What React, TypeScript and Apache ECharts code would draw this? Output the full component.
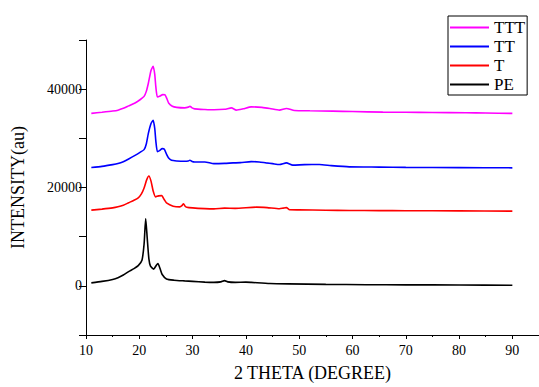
import React, { useEffect, useRef } from "react";
import * as echarts from "echarts";

const seriesNames = ["TTT", "TT", "T", "PE"];
const seriesColors = ["#ff00ff", "#0000ff", "#ff0000", "#000000"];

const pe: number[][] = [
  [11, 600], [13, 900], [15, 1300], [16, 1650], [17, 2200], [18, 2900], [19, 3500], [19.8, 4100],
  [20.5, 5200], [20.9, 8500], [21.2, 13700], [21.5, 9500], [21.8, 5500], [22.1, 4000], [22.7, 3400],
  [23.2, 4200], [23.5, 4550], [23.9, 3500], [24.3, 2300], [25.1, 1400], [26.5, 1150], [28.5, 1000],
  [30, 900], [32.3, 750], [34, 700], [35.3, 800], [36, 1050], [36.6, 800], [38, 700], [40, 750],
  [41, 700], [44.5, 480], [48, 400], [55, 300], [62.6, 220], [70, 200], [80, 170], [90, 130],
];

const t: number[][] = [
  [11, 15400], [13, 15600], [15, 15850], [16, 16070], [17, 16400], [18, 16900], [19, 17400],
  [19.8, 17900], [20.4, 18700], [20.9, 19900], [21.4, 21600], [21.8, 22330], [22.2, 21300],
  [22.6, 19300], [23.05, 18100], [23.6, 18300], [24.2, 18350], [24.7, 17500], [25.1, 16870],
  [26.35, 16200], [27.6, 16050], [28.0, 16300], [28.3, 16700], [28.6, 16200], [28.9, 16000],
  [30, 15850], [32.3, 15700], [34, 15650], [36, 15800], [38, 15750], [42, 16000], [44, 15900],
  [46.3, 15680], [47, 15800], [47.6, 15900], [48.2, 15480], [50, 15450], [55, 15380], [59.4, 15330],
  [65, 15300], [70, 15280], [80, 15250], [90, 15200],
];

const tt: number[][] = [
  [11, 24070], [13, 24300], [15, 24650], [16, 24870], [17, 25250], [18, 25800], [19.2, 26530],
  [20.2, 27200], [20.9, 27700], [21.3, 28800], [21.7, 31000], [22.2, 33000], [22.6, 33670],
  [22.9, 32000], [23.1, 29500], [23.4, 27300], [23.8, 27500], [24.3, 27900], [24.7, 27800],
  [25.1, 26800], [25.5, 26000], [26.05, 25530], [27, 25400], [28.5, 25330], [29.2, 25400],
  [29.5, 25550], [29.9, 25300], [30.4, 25200], [32.3, 25200], [34, 24850], [36, 24900],
  [37.6, 25000], [39, 25050], [41, 25270], [42.5, 25200], [43.8, 25000], [45, 24850], [46.3, 24670],
  [47.6, 25000], [48.8, 24550], [51, 24650], [53.8, 24670], [56, 24450], [59.4, 24200], [65, 24150],
  [70, 24100], [80, 24050], [90, 24000],
];

const ttt: number[][] = [
  [11, 35070], [13, 35300], [15, 35550], [16, 35730], [17, 36100], [18, 36600], [19.2, 37200],
  [20.2, 37900], [20.9, 38530], [21.3, 39500], [21.7, 41200], [22.2, 43800], [22.6, 44670],
  [22.9, 43000], [23.1, 40500], [23.4, 38400], [23.9, 38600], [24.4, 38900], [24.8, 38870],
  [25.2, 38000], [25.5, 37200], [26.2, 36530], [27, 36300], [28.5, 36200], [29.2, 36350],
  [29.5, 36530], [29.9, 36200], [30.4, 36000], [32.3, 35870], [34, 35800], [36, 35900],
  [37.3, 36200], [38.2, 35730], [39.5, 36000], [41, 36400], [43, 36300], [44.5, 36070],
  [46.3, 35730], [47.6, 36070], [49.1, 35670], [52, 35600], [56.3, 35530], [60, 35450],
  [65.7, 35330], [70, 35300], [75, 35250], [81.3, 35200], [85, 35150], [90, 35070],
];

const seriesData = [ttt, tt, t, pe];

const FONT = "'Liberation Serif', 'Times New Roman', serif";

export default function App() {
  const ref = useRef<HTMLDivElement>(null);
  useEffect(() => {
    if (!ref.current) return;
    const chart = echarts.init(ref.current, undefined, { renderer: "svg" });
    chart.setOption({
      animation: false,
      backgroundColor: "#ffffff",
      textStyle: { fontFamily: FONT },
      grid: { left: 86, top: 40, right: 0, bottom: 46, containLabel: false },
      legend: {
        data: seriesNames,
        orient: "vertical",
        left: 448,
        top: 16,
        padding: [3, 2, 2, 2],
        itemGap: 2,
        itemWidth: 39,
        itemHeight: 2,
        icon: "rect",
        borderColor: "#000",
        borderWidth: 1,
        textStyle: { fontFamily: FONT, fontSize: 17, color: "#000", padding: [0, 0, 0, 0] },
      },
      xAxis: {
        type: "value",
        min: 10,
        max: 95,
        interval: 10,
        name: "2 THETA (DEGREE)",
        nameLocation: "middle",
        nameGap: 29,
        nameTextStyle: { fontFamily: FONT, fontSize: 18, color: "#000" },
        axisLine: { onZero: false, lineStyle: { color: "#000", width: 1 } },
        axisTick: { show: true, length: 4, inside: false, lineStyle: { color: "#000" } },
        minorTick: { show: true, splitNumber: 2, length: 2, lineStyle: { color: "#000" } },
        splitLine: { show: false },
        axisLabel: {
          fontFamily: FONT,
          fontSize: 14,
          color: "#000",
          margin: 8,
          showMaxLabel: false,
          formatter: (v: number) => (v % 10 === 0 && v <= 90 ? String(v) : ""),
        },
      },
      yAxis: {
        type: "value",
        min: -10000,
        max: 50000,
        interval: 10000,
        name: "INTENSITY(au)",
        nameLocation: "middle",
        nameGap: 59,
        nameTextStyle: { fontFamily: FONT, fontSize: 18, color: "#000" },
        axisLine: { show: true, onZero: false, lineStyle: { color: "#000", width: 1 } },
        axisTick: { show: true, length: 7, lineStyle: { color: "#000" } },
        splitLine: { show: false },
        axisLabel: {
          fontFamily: FONT,
          fontSize: 14,
          color: "#000",
          margin: 4,
          formatter: (v: number) => (v >= 0 && v % 20000 === 0 && v < 50000 ? String(v) : ""),
        },
      },
      series: seriesNames.map((n, i) => ({
        name: n,
        type: "line",
        data: seriesData[i],
        showSymbol: false,
        smooth: 0.2,
        lineStyle: { color: seriesColors[i], width: 1.6 },
        itemStyle: { color: seriesColors[i] },
      })),
    });
    return () => chart.dispose();
  }, []);
  return (
    <div
      ref={ref}
      style={{ position: "fixed", left: 0, top: 0, width: 539, height: 387, background: "#fff" }}
    />
  );
}
